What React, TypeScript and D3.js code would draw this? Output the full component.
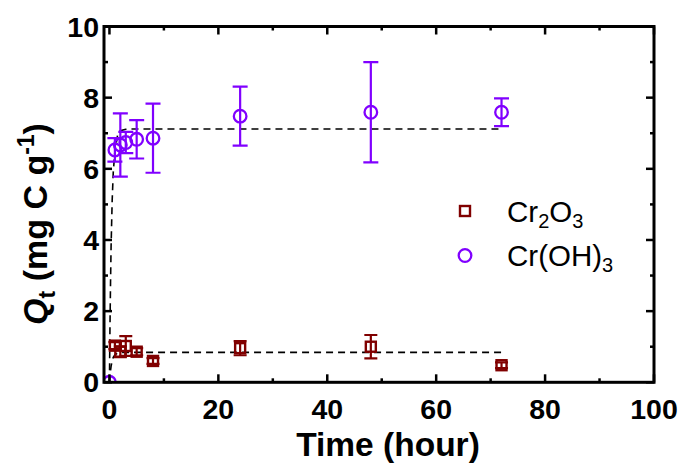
import React from "react";
import * as d3 from "d3";

const timesCr2O3 = [1, 2, 3, 5, 8, 24, 48, 72];
const valuesCr2O3 = [1.03, 0.86, 1.02, 0.86, 0.6, 0.96, 1.0, 0.48];
const errorsCr2O3 = [0.1, 0.15, 0.28, 0.1, 0.08, 0.2, 0.33, 0.08];

const timesCrOH3 = [0, 1, 2, 3, 5, 8, 24, 48, 72];
const valuesCrOH3 = [0, 6.53, 6.67, 6.74, 6.83, 6.86, 7.48, 7.59, 7.59];
const errorsCrOH3 = [0, 0.33, 0.89, 0.3, 0.54, 0.97, 0.83, 1.41, 0.39];

const fitTimes = [0, 0.1, 0.2, 0.3, 0.5, 0.7, 1, 1.5, 2, 3, 4, 72];
const fitCrOH3 = [0, 1.6, 2.8, 3.8, 5.1, 5.9, 6.5, 6.95, 7.07, 7.11, 7.12, 7.12];
const fitCr2O3 = [0, 0.19, 0.33, 0.45, 0.6, 0.7, 0.77, 0.82, 0.835, 0.84, 0.84, 0.84];

const xTicks = [0, 20, 40, 60, 80, 100];
const xMinor = [10, 30, 50, 70, 90];
const yTicks = [0, 2, 4, 6, 8, 10];
const yMinor = [1, 3, 5, 7, 9];

const RED = "#800000";
const PURPLE = "#8000FF";
const FONT = "'Liberation Sans', Arial, sans-serif";

export default function App() {
  const W = 682, H = 469;
  const L = 104, R = 654, T = 26.5, B = 382.3;
  const x = d3.scaleLinear().domain([-1, 100]).range([L, R]);
  const y = d3.scaleLinear().domain([0, 10]).range([B, T]);
  const line = d3.line<[number, number]>().x(d => x(d[0])).y(d => y(d[1]));
  const fitA = line(fitTimes.map((t, i) => [t, fitCrOH3[i]]));
  const fitB = line(fitTimes.map((t, i) => [t, fitCr2O3[i]]));

  const major = 8, minor = 4;

  return (
    <svg width={W} height={H} style={{ position: "absolute", left: 0, top: 0, background: "#fff" }} fontFamily={FONT}>
      <defs>
        <clipPath id="plot">
          <rect x={L} y={T} width={R - L} height={B - T} />
        </clipPath>
      </defs>
      <rect x={0} y={0} width={W} height={H} fill="#fff" />
      <g clipPath="url(#plot)">
        <path d={fitA || ""} fill="none" stroke="#000" strokeWidth={1.6} strokeDasharray="7,5" />
        <path d={fitB || ""} fill="none" stroke="#000" strokeWidth={1.6} strokeDasharray="7,5" />
        {timesCr2O3.map((t, i) => {
          const cx = x(t), cy = y(valuesCr2O3[i]);
          const e = errorsCr2O3[i];
          const y1 = y(valuesCr2O3[i] + e), y2 = y(valuesCr2O3[i] - e);
          return (
            <g key={"r" + i} stroke={RED} strokeWidth={2.2} fill="none">
              <line x1={cx} x2={cx} y1={y1} y2={y2} />
              <line x1={cx - 6.5} x2={cx + 6.5} y1={y1} y2={y1} />
              <line x1={cx - 6.5} x2={cx + 6.5} y1={y2} y2={y2} />
              <rect x={cx - 5} y={cy - 5} width={10} height={10} strokeWidth={2.4} />
            </g>
          );
        })}
        {timesCrOH3.map((t, i) => {
          const cx = x(t), cy = y(valuesCrOH3[i]);
          const e = errorsCrOH3[i];
          const y1 = y(valuesCrOH3[i] + e), y2 = y(valuesCrOH3[i] - e);
          return (
            <g key={"p" + i} stroke={PURPLE} strokeWidth={2.2} fill="none">
              {e > 0 && (
                <>
                  <line x1={cx} x2={cx} y1={y1} y2={y2} />
                  <line x1={cx - 7.5} x2={cx + 7.5} y1={y1} y2={y1} />
                  <line x1={cx - 7.5} x2={cx + 7.5} y1={y2} y2={y2} />
                </>
              )}
              <circle cx={cx} cy={cy} r={6.3} strokeWidth={2.3} />
            </g>
          );
        })}
      </g>
      {/* frame */}
      <rect x={L} y={T} width={R - L} height={B - T} fill="none" stroke="#000" strokeWidth={3} />
      {/* ticks */}
      <g stroke="#000" strokeWidth={2.5}>
        {xTicks.map(v => (
          <g key={"xt" + v}>
            <line x1={x(v)} x2={x(v)} y1={B} y2={B - major} />
            <line x1={x(v)} x2={x(v)} y1={T} y2={T + major} />
          </g>
        ))}
        {xMinor.map(v => (
          <g key={"xm" + v}>
            <line x1={x(v)} x2={x(v)} y1={B} y2={B - minor} />
            <line x1={x(v)} x2={x(v)} y1={T} y2={T + minor} />
          </g>
        ))}
        {yTicks.map(v => (
          <g key={"yt" + v}>
            <line x1={L} x2={L + major} y1={y(v)} y2={y(v)} />
            <line x1={R} x2={R - major} y1={y(v)} y2={y(v)} />
          </g>
        ))}
        {yMinor.map(v => (
          <g key={"ym" + v}>
            <line x1={L} x2={L + minor} y1={y(v)} y2={y(v)} />
            <line x1={R} x2={R - minor} y1={y(v)} y2={y(v)} />
          </g>
        ))}
      </g>
      {/* tick labels */}
      <g fontWeight="bold" fontSize={28.5} fill="#000">
        {xTicks.map(v => (
          <text key={"xl" + v} x={x(v)} y={B + 37} textAnchor="middle">{v}</text>
        ))}
        {yTicks.map(v => (
          <text key={"yl" + v} x={L - 5} y={y(v) + 10} textAnchor="end">{v}</text>
        ))}
      </g>
      {/* axis titles */}
      <text x={388} y={456} textAnchor="middle" fontWeight="bold" fontSize={33.5}>Time (hour)</text>
      <text transform={`translate(47, 224) rotate(-90)`} textAnchor="middle" fontWeight="bold" fontSize={34}>
        <tspan fontStyle="italic">Q</tspan>
        <tspan fontSize={23} dy={8}>t</tspan>
        <tspan dy={-8}> (mg C g</tspan>
        <tspan fontSize={23} dy={-13}>-1</tspan>
        <tspan dy={13}>)</tspan>
      </text>
      {/* legend */}
      <g>
        <rect x={465 - 5} y={211 - 5} width={10} height={10} fill="none" stroke={RED} strokeWidth={2.4} />
        <circle cx={465} cy={255.5} r={6.3} fill="none" stroke={PURPLE} strokeWidth={2.3} />
        <text x={507} y={222} fontSize={29.5}>
          Cr<tspan fontSize={20} dy={6}>2</tspan><tspan dy={-6}>O</tspan><tspan fontSize={20} dy={6}>3</tspan>
        </text>
        <text x={507} y={266} fontSize={29.5}>
          Cr(OH)<tspan fontSize={20} dy={6}>3</tspan>
        </text>
      </g>
    </svg>
  );
}
